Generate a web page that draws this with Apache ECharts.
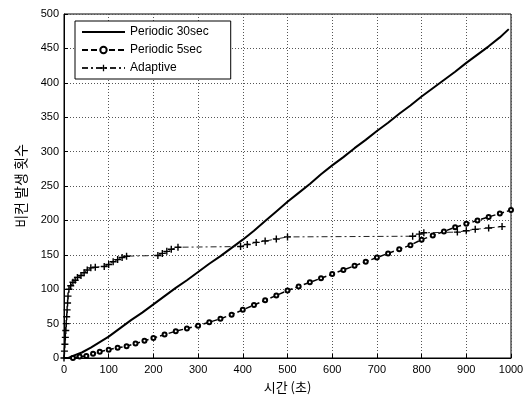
<!DOCTYPE html>
<html><head><meta charset="utf-8">
<script src="https://cdn.jsdelivr.net/npm/echarts@6/dist/echarts.min.js"></script>
<style>html,body{margin:0;padding:0;background:#fff}#c{width:530px;height:399px}</style>
</head><body><div id="c"></div>
<script>
// Periodic 30sec: [time (s), count]
const periodic30 = [[0,0],[10,0],[20,3],[40,8],[60,15],[80,23],[100,31],[125,43],[150,55],[175,66],[200,78],[225,90],[250,102],[275,113],[300,125],[325,137],[350,148],[375,160],[400,172],[425,185],[450,199],[475,213],[500,227],[525,240],[550,253],[575,267],[600,280],[625,292],[650,305],[675,317],[700,330],[725,342],[750,355],[775,367],[800,380],[825,392],[850,404],[875,416],[900,429],[925,441],[950,453],[975,466],[995,478]];
// Periodic 5sec
const periodic5 = [[20,0],[35,2],[50,3],[65,6],[80,9],[100,12],[120,15],[140,17],[160,21],[180,25],[200,29],[225,34],[250,39],[275,43],[300,47],[325,52],[350,57],[375,63],[400,70],[425,77],[450,84],[475,91],[500,98],[525,104],[550,110],[575,116],[600,122],[625,128],[650,134],[675,140],[700,146],[725,152],[750,158],[775,164],[800,172],[825,178],[850,184],[875,190],[900,195],[925,200],[950,205],[975,210],[1000,215]];
// Adaptive
const adaptive = [[0,0],[1,10],[2,20],[3,30],[4,40],[5,50],[6,60],[7,70],[8,80],[9,90],[11,100],[15,105],[20,110],[25,113],[30,117],[38,120],[45,124],[52,128],[60,131],[70,132],[90,133],[100,136],[110,140],[120,143],[130,146],[140,148],[210,149],[220,152],[230,155],[240,158],[255,161],[395,162],[410,165],[430,168],[450,170],[475,173],[500,176],[780,177],[795,180],[805,182],[880,183],[900,185],[920,187],[950,189],[980,191]];

const seriesNames = ['Periodic 30sec','Periodic 5sec','Adaptive'];
const xTitle = '시간 (초)';
const yTitle = '비컨 발생 횟수';

const plusPath = 'path://M4,0H6V4H10V6H6V10H4V6H0V4H4Z';
const chart = echarts.init(document.getElementById('c'));
const axisFont = {fontFamily:'Liberation Sans, Arial, sans-serif', fontSize:11, color:'#000'};
chart.setOption({
  animation:false,
  backgroundColor:'#fff',
  grid:{left:64,right:19,top:14,bottom:41,show:true,borderColor:'#000',borderWidth:1,backgroundColor:'transparent'},
  legend:{
    left:75, top:21, orient:'vertical', itemWidth:43, itemHeight:8, itemGap:6,
    padding:[5,22,5,6], borderColor:'#000', borderWidth:1, backgroundColor:'#fff',
    textStyle:{fontFamily:'Liberation Sans, Arial, sans-serif', fontSize:12, color:'#000'},
    data:[{name:seriesNames[0], icon:'path://M0,0H43V2H0Z'}, seriesNames[1], seriesNames[2]]
  },
  xAxis:{
    type:'value', min:0, max:1000, interval:100,
    name:xTitle, nameLocation:'middle', nameGap:23,
    nameTextStyle:{fontFamily:'Noto Sans CJK KR', fontSize:13, color:'#000'},
    axisLine:{show:true,lineStyle:{color:'#000'}},
    axisTick:{show:true,inside:true,length:4,lineStyle:{color:'#000'}},
    axisLabel:Object.assign({margin:6, formatter:v=>String(v)}, axisFont),
    splitLine:{show:true,lineStyle:{color:'#555',type:[1,2],width:1}}
  },
  yAxis:{
    type:'value', min:0, max:500, interval:50,
    name:yTitle, nameLocation:'middle', nameGap:36, nameRotate:90,
    nameTextStyle:{fontFamily:'Noto Sans CJK KR', fontSize:14, color:'#000'},
    axisLine:{show:true,lineStyle:{color:'#000'}},
    axisTick:{show:true,inside:true,length:4,lineStyle:{color:'#000'}},
    axisLabel:Object.assign({margin:5}, axisFont),
    splitLine:{show:true,lineStyle:{color:'#555',type:[1,2],width:1}}
  },
  series:[
    {name:seriesNames[0], type:'line', data:periodic30, showSymbol:false, symbol:'none',
     lineStyle:{color:'#000',width:2}, itemStyle:{color:'#000'}},
    {name:seriesNames[1], type:'line', data:periodic5, symbol:'emptyCircle', symbolSize:4, showSymbol:true, showAllSymbol:true,
     lineStyle:{color:'#000',width:1.5,type:[6,3]}, itemStyle:{color:'#000',borderColor:'#000',borderWidth:1.3}},
    {name:seriesNames[2], type:'line', data:adaptive, symbol:plusPath, symbolSize:7, showSymbol:true, showAllSymbol:true,
     lineStyle:{color:'#222',width:1,type:[6,3,2,3]}, itemStyle:{color:'#000'}}
  ]
});
</script>
</body></html>
